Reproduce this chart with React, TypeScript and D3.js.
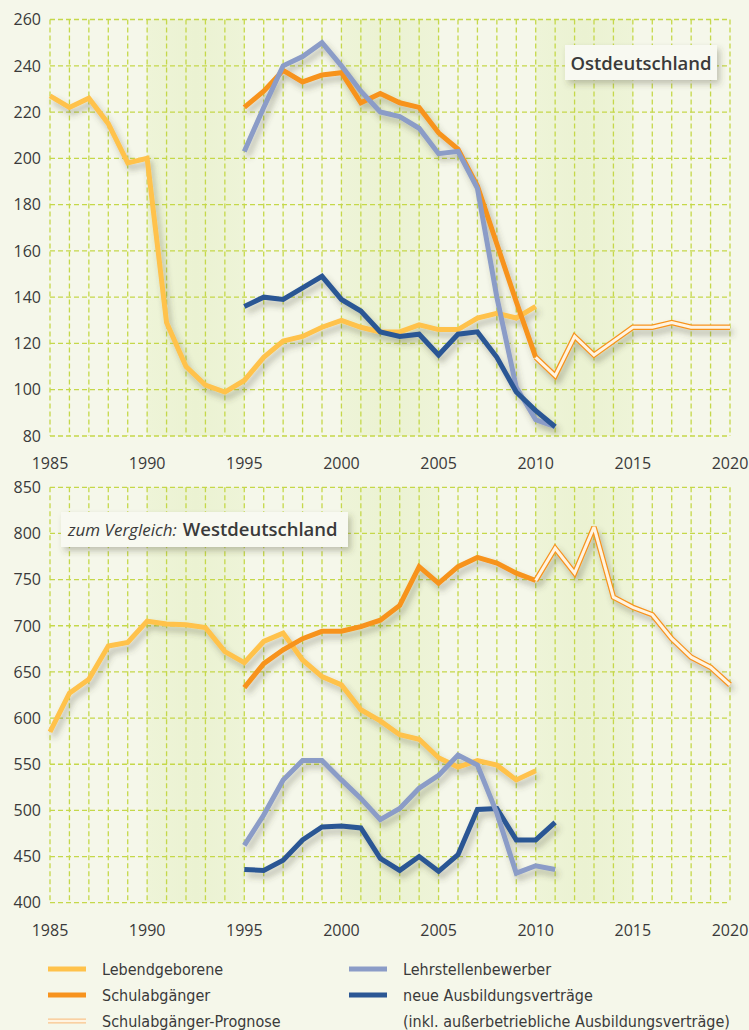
import React from 'react';
import * as d3 from 'd3';

const W = 749;
const H = 1030;

// Werte in Tausend, je Reihe ab Startjahr
const ostLebendgeborene = [227, 222, 226, 215, 198, 200, 129, 110, 102, 99, 104, 114, 121, 123, 127, 130, 127, 125, 125, 128, 126, 126, 131, 133, 131, 136]; // ab 1985
const ostSchulabgaenger = [222, 229, 238, 233, 236, 237, 224, 228, 224, 222, 211, 204, 188, 163, 138, 114]; // ab 1995
const ostPrognose = [114, 106, 123, 115, 121, 127, 127, 129, 127, 127, 127]; // ab 2010
const ostBewerber = [203, 222, 240, 244, 250, 240, 229, 220, 218, 213, 202, 203, 187, 140, 101, 87, 84]; // ab 1995
const ostVertraege = [136, 140, 139, 144, 149, 139, 134, 125, 123, 124, 115, 124, 125, 114, 99, 91, 84]; // ab 1995

const westLebendgeborene = [585, 627, 642, 678, 682, 705, 702, 701, 698, 672, 660, 683, 692, 663, 645, 636, 609, 597, 582, 577, 557, 547, 554, 549, 533, 543]; // ab 1985
const westSchulabgaenger = [633, 659, 674, 686, 694, 694, 699, 706, 722, 764, 746, 764, 774, 768, 757, 749]; // ab 1995
const westPrognose = [749, 784, 757, 807, 731, 720, 712, 686, 666, 655, 636]; // ab 2010
const westBewerber = [462, 495, 533, 554, 554, 533, 513, 490, 502, 524, 538, 560, 549, 497, 432, 440, 436]; // ab 1995
const westVertraege = [436, 435, 446, 468, 482, 483, 481, 448, 435, 450, 434, 452, 501, 502, 468, 468, 487]; // ab 1995

const xTicks = [1985, 1990, 1995, 2000, 2005, 2010, 2015, 2020];
const ostYTicks = [80, 100, 120, 140, 160, 180, 200, 220, 240, 260];
const westYTicks = [400, 450, 500, 550, 600, 650, 700, 750, 800, 850];
const bands = [[1990, 1995], [2000, 2005], [2010, 2015]];

const C_LEB = '#ffc24b';
const C_SCHUL = '#f7931e';
const C_BEW = '#8b9cc7';
const C_VER = '#2b5794';
const GRID = '#c5d84a';
const TXT = '#3a3a3a';
const FONT = '"Open Sans", "DejaVu Sans", sans-serif';
const NARROW = '"Liberation Sans Narrow", "DejaVu Sans Condensed", "Open Sans", sans-serif';

const x = d3.scaleLinear().domain([1985, 2020]).range([50, 730]);
const allYears = d3.range(1985, 2021);

const toPoints = (start, values) => values.map((v, i) => [start + i, v]);

const Panel = ({ yDomain, yRange, yTicks, series }) => {
  const y = d3.scaleLinear().domain(yDomain).range(yRange);
  const line = d3.line().x(d => x(d[0])).y(d => y(d[1]));
  const top = y(yDomain[1]);
  const bottom = y(yDomain[0]);
  return (
    <g>
      {bands.map(([a, b]) => (
        <rect key={a} x={x(a)} y={top} width={x(b) - x(a)} height={bottom - top} fill="url(#band)" />
      ))}
      {yTicks.map(t => (
        <line key={'h' + t} x1={x(1985)} x2={x(2020)} y1={y(t)} y2={y(t)}
          stroke={GRID} strokeWidth={1.3} strokeDasharray="5 3" />
      ))}
      {allYears.map(yr => (
        <line key={'v' + yr} x1={x(yr)} x2={x(yr)} y1={top} y2={bottom}
          stroke={GRID} strokeWidth={1.3} strokeDasharray="5 3" />
      ))}
      {yTicks.map(t => (
        <text key={'yl' + t} x={41} y={y(t)} dy="0.36em" textAnchor="end"
          fontFamily={FONT} fontSize={16} fill={TXT}>{t}</text>
      ))}
      {xTicks.map(t => (
        <text key={'xl' + t} x={x(t)} y={bottom + 33} textAnchor="middle"
          fontFamily={FONT} fontSize={16} fill={TXT}>{t}</text>
      ))}
      <g filter="url(#shadow)" fill="none" strokeLinejoin="miter" strokeMiterlimit={3}>
        {series.map(s => (
          s.forecast ? (
            <g key={s.key}>
              <path d={line(s.points)} stroke={C_SCHUL} strokeWidth={5.5} />
              <path d={line(s.points)} stroke="#fff4e2" strokeWidth={3} />
            </g>
          ) : (
            <path key={s.key} d={line(s.points)} stroke={s.color} strokeWidth={5} />
          )
        ))}
      </g>
    </g>
  );
};

const LegendItem = ({ x0, y0, color, forecast, lines }) => (
  <g>
    {forecast ? (
      <g>
        <line x1={x0} x2={x0 + 38} y1={y0} y2={y0} stroke="#f9c58c" strokeWidth={5} />
        <line x1={x0} x2={x0 + 38} y1={y0} y2={y0} stroke="#fff4e2" strokeWidth={2.5} />
      </g>
    ) : (
      <line x1={x0} x2={x0 + 38} y1={y0} y2={y0} stroke={color} strokeWidth={5} />
    )}
    {lines.map((l, i) => (
      <text key={i} x={x0 + 54} y={y0 + i * 26} dy="0.35em" fontFamily={NARROW}
        fontSize={16} fill={TXT}>{l}</text>
    ))}
  </g>
);

export default function App() {
  const ostSeries = [
    { key: 'leb', color: C_LEB, points: toPoints(1985, ostLebendgeborene) },
    { key: 'schul', color: C_SCHUL, points: toPoints(1995, ostSchulabgaenger) },
    { key: 'prog', forecast: true, points: toPoints(2010, ostPrognose) },
    { key: 'bew', color: C_BEW, points: toPoints(1995, ostBewerber) },
    { key: 'ver', color: C_VER, points: toPoints(1995, ostVertraege) },
  ];
  const westSeries = [
    { key: 'leb', color: C_LEB, points: toPoints(1985, westLebendgeborene) },
    { key: 'schul', color: C_SCHUL, points: toPoints(1995, westSchulabgaenger) },
    { key: 'prog', forecast: true, points: toPoints(2010, westPrognose) },
    { key: 'ver', color: C_VER, points: toPoints(1995, westVertraege) },
    { key: 'bew', color: C_BEW, points: toPoints(1995, westBewerber) },
  ];

  return (
    <svg width={W} height={H} style={{ position: 'absolute', left: 0, top: 0, display: 'block' }}>
      <defs>
        <filter id="shadow" x="-10%" y="-10%" width="130%" height="130%">
          <feDropShadow dx={3} dy={5} stdDeviation={3} floodColor="#4a4a30" floodOpacity={0.35} />
        </filter>
        <filter id="boxshadow" x="-10%" y="-30%" width="130%" height="180%">
          <feDropShadow dx={3} dy={4} stdDeviation={3} floodColor="#4a4a30" floodOpacity={0.3} />
        </filter>
        <linearGradient id="band" x1="0" x2="1" y1="0" y2="0">
          <stop offset="0" stopColor="#eef4d8" />
          <stop offset="0.5" stopColor="#ebf2d2" />
          <stop offset="1" stopColor="#eef4d8" />
        </linearGradient>
      </defs>
      <rect x={0} y={0} width={W} height={H} fill="#f5f7ea" />

      <Panel yDomain={[80, 260]} yRange={[436, 19.5]} yTicks={ostYTicks} series={ostSeries} />
      <Panel yDomain={[400, 850]} yRange={[902.7, 487.3]} yTicks={westYTicks} series={westSeries} />

      <g>
        <rect x={565} y={45} width={152} height={35} fill="#f8f9f1" filter="url(#boxshadow)" />
        <text x={641} y={63} dy="0.36em" textAnchor="middle" fontFamily={FONT} fontWeight={600}
          fontSize={18.5} fill={TXT}>Ostdeutschland</text>
      </g>
      <g>
        <rect x={61} y={512} width={287} height={35} fill="#f8f9f1" filter="url(#boxshadow)" />
        <text x={68} y={530} dy="0.36em" fontFamily={FONT} fontSize={17} fill={TXT}>
          <tspan fontStyle="italic">zum Vergleich:</tspan>
          <tspan dx={6} fontWeight={600} fontSize={18.5}>Westdeutschland</tspan>
        </text>
      </g>

      <LegendItem x0={48} y0={969} color={C_LEB} lines={['Lebendgeborene']} />
      <LegendItem x0={48} y0={995} color={C_SCHUL} lines={['Schulabgänger']} />
      <LegendItem x0={48} y0={1021} forecast lines={['Schulabgänger-Prognose']} />
      <LegendItem x0={349} y0={969} color={C_BEW} lines={['Lehrstellenbewerber']} />
      <LegendItem x0={349} y0={995} color={C_VER}
        lines={['neue Ausbildungsverträge', '(inkl. außerbetriebliche Ausbildungsverträge)']} />
    </svg>
  );
}
